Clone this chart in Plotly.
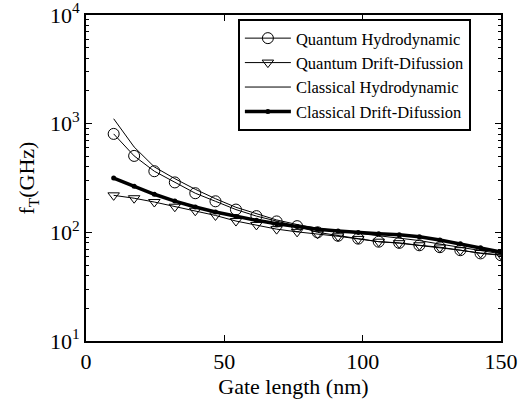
import numpy as np
import plotly.graph_objects as go

gate_length = [10.0, 17.4, 24.7, 32.1, 39.5, 46.8, 54.2, 61.6, 68.9, 76.3,
               83.7, 91.1, 98.4, 105.8, 113.2, 120.5, 127.9, 135.3, 142.6, 150.0]

quantum_hd = [805, 505, 365, 288, 229, 193, 162, 141, 126, 114,
              100, 93, 87.5, 82, 80, 76, 73, 68.5, 64, 61.5]
quantum_dd = [219, 206, 190, 172, 158, 143, 127, 117, 107, 101,
              97, 92, 87, 82, 79.5, 76, 72.5, 68.5, 64.5, 62]
classical_hd = [1110, 610, 400, 312, 249, 204, 170, 148, 130, 118,
                109, 103, 98, 93, 89, 84, 78, 72.5, 67.5, 63.5]
classical_dd = [316, 265, 224, 194, 171, 154, 140, 129, 120, 113,
                107, 103, 99.5, 97, 95, 91, 85, 78.5, 72, 66]

x_ticks = [0, 50, 100, 150]
y_ticks = [10, 100, 1000, 10000]
y_tick_text = ["10<sup>1</sup>", "10<sup>2</sup>", "10<sup>3</sup>", "10<sup>4</sup>"]
y_minor = [m * d for d in (10, 100, 1000) for m in range(2, 10)]

FONT = "Liberation Serif"
fig = go.Figure()
fig.add_trace(go.Scatter(x=gate_length, y=quantum_hd, mode="lines+markers",
                         name="Quantum Hydrodynamic",
                         line=dict(color="black", width=1),
                         marker=dict(symbol="circle-open", size=11, color="black",
                                     line=dict(width=1, color="black"))))
fig.add_trace(go.Scatter(x=gate_length, y=quantum_dd, mode="lines+markers",
                         name="Quantum Drift-Difussion",
                         line=dict(color="black", width=1),
                         marker=dict(symbol="triangle-down-open", size=10, color="black",
                                     line=dict(width=1, color="black"))))
fig.add_trace(go.Scatter(x=gate_length, y=classical_hd, mode="lines",
                         name="Classical Hydrodynamic",
                         line=dict(color="black", width=1)))
fig.add_trace(go.Scatter(x=gate_length, y=classical_dd, mode="lines+markers",
                         name="Classical Drift-Difussion",
                         line=dict(color="black", width=3.5),
                         marker=dict(symbol="circle", size=5, color="black")))

fig.update_layout(
    width=524, height=402,
    margin=dict(l=86, r=23, t=15, b=61),
    paper_bgcolor="white", plot_bgcolor="white",
    font=dict(family=FONT, size=22, color="black"),
    showlegend=True,
    legend=dict(x=0.366, y=0.988, xanchor="left", yanchor="top",
                bgcolor="white", bordercolor="black", borderwidth=2,
                font=dict(family=FONT, size=16.5, color="black"),
                tracegroupgap=0, itemwidth=46),
    xaxis=dict(range=[0, 150], tickvals=x_ticks, automargin=False,
               ticks="inside", ticklen=6, tickwidth=1, tickcolor="black",
               showline=True, linecolor="black", linewidth=2, mirror="ticks",
               showgrid=False, zeroline=False, ticklabeloverflow="allow",
               title=dict(text="Gate length (nm)", standoff=2,
                          font=dict(family=FONT, size=22))),
    yaxis=dict(type="log", range=[1, 4], tickvals=y_ticks, ticktext=y_tick_text,
               automargin=False, ticklabeloverflow="allow",
               ticks="inside", ticklen=6, tickwidth=1, tickcolor="black",
               showline=True, linecolor="black", linewidth=2, mirror="ticks",
               showgrid=False, zeroline=False,
               minor=dict(tickmode="array", tickvals=y_minor, ticks="inside",
                          ticklen=3, tickwidth=1, tickcolor="black", showgrid=False),
               title=dict(text="f<sub>T</sub>(GHz)", standoff=9,
                          font=dict(family=FONT, size=22))),
)

fig.write_html("out.html")
